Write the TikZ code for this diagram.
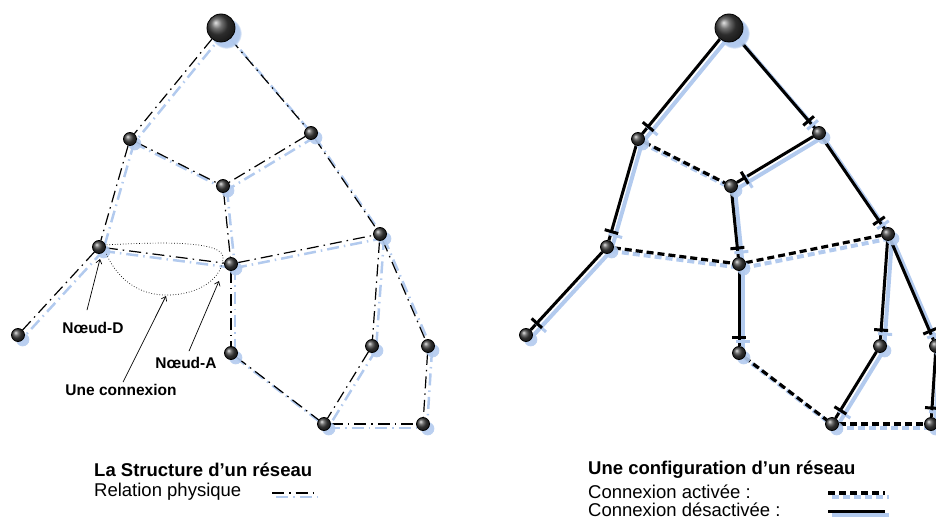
\documentclass[tikz,border=0pt]{standalone}
\usepackage{fontspec}
\setmainfont{Liberation Sans}
\usetikzlibrary{calc,backgrounds,shadows,arrows.meta}
\definecolor{ombre}{RGB}{178,202,238}

\begin{document}
\begin{tikzpicture}[x=1pt,y=-1pt]
		\tikzstyle{ball}=[circle,inner sep=0,minimum size=13pt,ball color=black!75,draw=black,line width=0.8pt,
			circular drop shadow={shadow xshift=4pt,shadow yshift=-4pt,fill=ombre,opacity=0.9}]
		\tikzstyle{racine}=[ball,minimum size=28pt,circular drop shadow={shadow xshift=5pt,shadow yshift=-5pt,fill=ombre,opacity=0.9}]
		\tikzstyle{phys}=[line width=1.2pt,dash pattern=on 12pt off 5pt on 1.5pt off 5pt]
		\tikzstyle{physombre}=[phys,ombre,line width=2.5pt,transform canvas={shift={(4pt,-4pt)}}]
		\tikzstyle{inactif}=[line width=3pt]
		\tikzstyle{actif}=[line width=3.2pt,dash pattern=on 7pt off 4pt]
		\tikzstyle{inactifombre}=[inactif,ombre,line width=4pt,transform canvas={shift={(4pt,-4pt)}}]
		\tikzstyle{actifombre}=[actif,ombre,line width=4pt,transform canvas={shift={(4pt,-4pt)}}]
		\tikzstyle{coupe}=[line width=3pt]
		\tikzstyle{coupeombre}=[coupe,ombre,transform canvas={shift={(4pt,-4pt)}}]
		\tikzstyle{boucle}=[dotted,line width=0.7pt]
		\tikzstyle{fleche}=[line width=0.7pt,-{Straight Barb[length=4pt,width=6pt]}]
		\tikzstyle{lbl}=[font=\bfseries\fontsize{15.5}{17}\selectfont,inner sep=1pt]
		\tikzstyle{legende}=[anchor=west,inner sep=0,font=\fontsize{18.5}{20}\selectfont]

		\useasboundingbox (0,0) rectangle (936,521);
		\clip (0,0) rectangle (936,521);

		% noeuds : structure (s) et configuration (c)
		\node[racine] (s0) at (221,28) {};
		\node[racine] (c0) at (729,28) {};
		\foreach \i/\x/\y in {1/130/139,2/311/133,3/223/186,4/99/247,5/231/264,6/380/234,
				7/18/335,8/231/353,9/372/346,10/428/346,11/324/424,12/423/424}{
			\node[ball] (s\i) at (\x,\y) {};
			\node[ball] (c\i) at (\x+508,\y) {};
		}

		\begin{scope}[on background layer]
			\foreach \a/\b in {0/1,0/2,1/3,2/3,1/4,4/7,4/5,3/5,5/6,2/6,5/8,8/11,6/9,9/11,6/10,10/12,11/12}{
				\draw[physombre] (s\a.center) -- (s\b.center);
				\draw[phys] (s\a) -- (s\b);
			}
			% connexions desactivees
			\foreach \a/\b in {0/1,0/2,2/3,1/4,4/7,3/5,2/6,5/8,6/9,9/11,6/10,10/12}{
				\draw[inactifombre] (c\a.center) -- (c\b.center);
				\draw[inactif] (c\a) -- (c\b);
				\coordinate (t) at ($(c\b)!16pt!(c\a)$);
				\draw[coupeombre] ($(t)!7pt!90:(c\a)$) -- ($(t)!7pt!-90:(c\a)$);
				\draw[coupe] ($(t)!7pt!90:(c\a)$) -- ($(t)!7pt!-90:(c\a)$);
			}
			% connexions activees
			\foreach \a/\b in {1/3,4/5,5/6,8/11,11/12}{
				\draw[actifombre] (c\a.center) -- (c\b.center);
				\draw[actif] (c\a) -- (c\b);
			}
		\end{scope}

		\draw[boucle] (104,245) .. controls (160,242) and (226,240) .. (223,259)
			.. controls (221,281) and (195,296) .. (164,295)
			.. controls (132,294) and (114,272) .. (106,253);

		\node[lbl] (lD) at (93,328) {Nœud-D};
		\node[lbl] (lA) at (186,363) {Nœud-A};
		\node[lbl] (lC) at (121,390) {Une connexion};
		\coordinate (pD) at (100,259);
		\coordinate (pA) at (219,281);
		\coordinate (pC) at (166,296);
		\draw[fleche] ([shift={(-6,-11)}]lD.north) -- (pD);
		\draw[fleche] ([shift={(3,-5)}]lA.north) -- (pA);
		\draw[fleche] ([shift={(2,-1)}]lC.north) -- (pC);

		% legendes
		\node[legende,font=\bfseries\fontsize{18.5}{20}\selectfont] (titreS) at (94,470) {La Structure d’un réseau};
		\node[legende] (relS) at (94,492) {Relation physique};
		\coordinate (r1) at (272,493);
		\coordinate (r2) at (313,493);
		\draw[physombre] (r1) -- (r2);
		\draw[phys] (r1) -- (r2);

		\node[legende,font=\bfseries\fontsize{18.5}{20}\selectfont] (titreC) at (588,470) {Une configuration d’un réseau};
		\node[legende] (actC) at (588,492) {Connexion activée :};
		\node[legende] (desC) at (588,510) {Connexion désactivée :};
		\coordinate (a1) at (828,493);
		\coordinate (a2) at (885,493);
		\draw[actifombre] (a1) -- (a2);
		\draw[actif] (a1) -- (a2);
		\coordinate (d1) at (828,511);
		\coordinate (d2) at (885,511);
		\draw[inactifombre] (d1) -- (d2);
		\draw[inactif] (d1) -- (d2);
	\end{tikzpicture}
\end{document}
